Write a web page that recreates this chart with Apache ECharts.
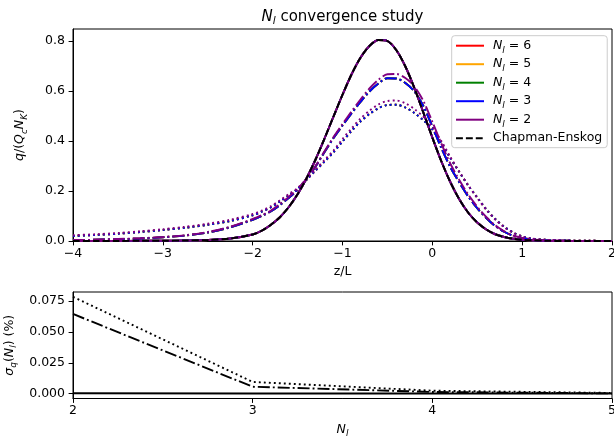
<!DOCTYPE html>
<html><head><meta charset="utf-8">
<script src="https://cdn.jsdelivr.net/npm/echarts@6/dist/echarts.min.js"></script>
<style>html,body{margin:0;padding:0;background:#fff}#c{width:614px;height:437px}</style>
</head><body><div id="c"></div>
<script>
// ---- top panel: q/(Q_c N_K) vs z/L ----
const zValues = [-4,-3.75,-3.5,-3.25,-3,-2.75,-2.5,-2.25,-2,-1.9,-1.8,-1.7,-1.6,-1.5,-1.4,-1.3,-1.2,-1.1,-1.0,-0.9,-0.8,-0.7,-0.6,-0.5,-0.4,-0.3,-0.2,-0.1,0,0.1,0.2,0.3,0.4,0.5,0.6,0.7,0.8,0.9,1.0,1.1,1.25,1.5,1.75,2.0];
// converged solid curves (N_l = 6..2) and Chapman-Enskog
const solidQ = [0.000,0.000,0.000,0.001,0.001,0.002,0.004,0.010,0.026, 0.041,0.064,0.094,0.135,0.187,0.251,0.326,0.410,0.498, 0.585,0.666,0.733,0.780,0.804,0.800,0.763,0.698,0.612,0.514, 0.414,0.319,0.236,0.167,0.113,0.074,0.046,0.027,0.016,0.009,0.005, 0.003,0.001,0.000,0.000,0.000];
const chapmanQ = [0.000,0.000,0.000,0.001,0.001,0.002,0.004,0.010,0.026, 0.041,0.064,0.094,0.135,0.187,0.251,0.326,0.410,0.498, 0.585,0.666,0.733,0.780,0.804,0.800,0.763,0.698,0.612,0.514, 0.414,0.319,0.236,0.167,0.113,0.074,0.046,0.027,0.016,0.009,0.005, 0.003,0.001,0.000,0.000,0.000];
// dash-dot group: N_l >= 3 and N_l = 2
const dashdotQ3 = [0.003,0.005,0.007,0.010,0.015,0.022,0.034,0.055,0.085, 0.100,0.118,0.143,0.172,0.205,0.248,0.298,0.356,0.412, 0.462,0.510,0.556,0.598,0.630,0.651,0.650,0.632,0.598,0.540, 0.458,0.372,0.296,0.234,0.178,0.131,0.092,0.060,0.037,0.021,0.012, 0.007,0.003,0.001,0.000,0.000];
const dashdotQ2 = [0.004,0.005,0.008,0.011,0.016,0.023,0.036,0.057,0.088, 0.103,0.121,0.147,0.176,0.208,0.250,0.300,0.359,0.416, 0.468,0.518,0.566,0.610,0.645,0.667,0.668,0.652,0.618,0.560, 0.477,0.390,0.310,0.244,0.186,0.137,0.096,0.063,0.039,0.022,0.012, 0.007,0.003,0.001,0.000,0.000];
// dotted group: N_l >= 3 and N_l = 2
const dottedQ3 = [0.020,0.024,0.029,0.036,0.044,0.053,0.065,0.080,0.103, 0.117,0.134,0.157,0.182,0.208,0.245,0.282,0.318,0.355, 0.398,0.440,0.478,0.508,0.531,0.544,0.545,0.534,0.512,0.483, 0.446,0.392,0.332,0.276,0.222,0.174,0.127,0.088,0.057,0.034,0.018, 0.010,0.005,0.002,0.001,0.000];
const dottedQ2 = [0.023,0.027,0.032,0.039,0.047,0.057,0.069,0.085,0.108, 0.122,0.139,0.162,0.187,0.212,0.248,0.286,0.324,0.362, 0.408,0.450,0.490,0.521,0.546,0.560,0.562,0.551,0.528,0.497, 0.456,0.400,0.337,0.278,0.222,0.172,0.125,0.086,0.055,0.033,0.018, 0.010,0.005,0.002,0.001,0.000];
const nlLevels = [6,5,4,3,2];
const topXTicks = [-4,-3,-2,-1,0,1,2];
const topYTicks = [0,0.2,0.4,0.6,0.8];

// ---- bottom panel: sigma_q(N_l) ----
const nlValues = [2,3,4,5];
const sigmaSolid = [0.0003,0.0002,0.0001,0.0001];
const sigmaDashdot = [0.0645,0.0056,0.0014,0.0002];
const sigmaDotted = [0.0784,0.0095,0.0024,0.0006];
const botXTicks = [2,3,4,5];
const botYTicks = [0,0.025,0.05,0.075];

const FONT = 'DejaVu Sans';
const FS = 12.5;
const pair = (xs, ys) => xs.map((x, i) => [x, ys[i]]);
const LW = 1.9;
const DASH = { solid: 'solid', dashdot: [12, 3, 1.9, 3], dotted: [1.9, 3.1], dashed: [6.9, 3] };
const COLORS = { 6: '#ff0000', 5: '#ffa500', 4: '#008000', 3: '#0000ff', 2: '#800080' };
const rich = {
  i: { fontFamily: FONT, fontStyle: 'italic', fontSize: FS, lineHeight: 18, color: '#000' },
  s: { fontFamily: FONT, fontStyle: 'italic', fontSize: 9, lineHeight: 9, verticalAlign: 'bottom', color: '#000' }
};
const minus = v => (v < 0 ? '\u2212' + Math.abs(v) : String(v));

function lineSeries(name, data, color, type, xi) {
  return {
    type: 'line', name: name, xAxisIndex: xi, yAxisIndex: xi, data: data,
    symbol: 'none', smooth: xi === 0 ? 0.3 : false,
    lineStyle: { color: color, width: LW, type: type, cap: 'butt' },
    itemStyle: { color: color }, animation: false, silent: true
  };
}

const series = [];
nlLevels.forEach(n => {
  const dd = n === 2 ? dashdotQ2 : dashdotQ3;
  const dt = n === 2 ? dottedQ2 : dottedQ3;
  series.push(lineSeries('N' + n, pair(zValues, solidQ), COLORS[n], DASH.solid, 0));
  series.push(lineSeries('dd' + n, pair(zValues, dd), COLORS[n], DASH.dashdot, 0));
  series.push(lineSeries('dot' + n, pair(zValues, dt), COLORS[n], DASH.dotted, 0));
});
series.push(lineSeries('CE', pair(zValues, chapmanQ), '#000000', DASH.dashed, 0));
series.push(lineSeries('s_solid', pair(nlValues, sigmaSolid), '#000000', DASH.solid, 1));
series.push(lineSeries('s_dd', pair(nlValues, sigmaDashdot), '#000000', DASH.dashdot, 1));
series.push(lineSeries('s_dot', pair(nlValues, sigmaDotted), '#000000', DASH.dotted, 1));

function xAxis(grid, min, max, ticks, name, gap) {
  return {
    type: 'value', gridIndex: grid, min: min, max: max,
    axisLine: { show: true, onZero: false, lineStyle: { color: '#000', width: 1 } },
    axisTick: { show: true, inside: false, length: 4.4, lineStyle: { color: '#000', width: 1 }, customValues: ticks },
    axisLabel: { customValues: ticks, margin: 6, color: '#000', fontFamily: FONT, fontSize: FS, formatter: v => minus(v), showMinLabel: true, showMaxLabel: true, hideOverlap: false },
    splitLine: { show: false },
    name: name, nameLocation: 'middle', nameGap: gap,
    nameTextStyle: { color: '#000', fontFamily: FONT, fontSize: FS, lineHeight: 18, rich: rich }
  };
}
function yAxis(grid, min, max, ticks, digits, name, gap) {
  return {
    type: 'value', gridIndex: grid, min: min, max: max,
    axisLine: { show: true, onZero: false, lineStyle: { color: '#000', width: 1 } },
    axisTick: { show: true, inside: false, length: 4.4, lineStyle: { color: '#000', width: 1 }, customValues: ticks },
    axisLabel: { customValues: ticks, margin: 8, color: '#000', fontFamily: FONT, fontSize: FS, formatter: v => v.toFixed(digits), showMinLabel: true, showMaxLabel: true },
    splitLine: { show: false },
    name: name, nameLocation: 'middle', nameGap: gap, nameRotate: 90,
    nameTextStyle: { color: '#000', fontFamily: FONT, fontSize: FS, lineHeight: 18, rich: rich }
  };
}

const nameMap = { N6: '{i|N}{s|l} = 6', N5: '{i|N}{s|l} = 5', N4: '{i|N}{s|l} = 4', N3: '{i|N}{s|l} = 3', N2: '{i|N}{s|l} = 2', CE: 'Chapman-Enskog' };

const option = {
  animation: false,
  backgroundColor: '#ffffff',
  grid: [
    { left: 73, right: 2, top: 29, height: 212, show: true, borderColor: '#000', borderWidth: 1, backgroundColor: 'transparent', containLabel: false, outerBoundsMode: 'none' },
    { left: 73, right: 2, top: 292, height: 106.5, show: true, borderColor: '#000', borderWidth: 1, backgroundColor: 'transparent', containLabel: false, outerBoundsMode: 'none' }
  ],
  xAxis: [
    xAxis(0, -4, 2, topXTicks, 'z/L', 22),
    xAxis(1, 2, 5, botXTicks, '{i|N}{s|l}', 22)
  ],
  yAxis: [
    yAxis(0, 0, 0.848, topYTicks, 1, '{i|q}/({i|Q}{s|c}{i|N}{s|K})', 44),
    yAxis(1, -0.0039, 0.0823, botYTicks, 3, '{i|σ}{s|q}({i|N}{s|l}) (%)', 44)
  ],
  legend: {
    data: ['N6', 'N5', 'N4', 'N3', 'N2', 'CE'],
    orient: 'vertical', left: 451.7, top: 35.7,
    itemWidth: 28, itemHeight: 14, itemGap: 0.5,
    padding: [1, 5, 0.5, 3.3],
    backgroundColor: 'rgba(255,255,255,0.8)', borderColor: '#cccccc', borderWidth: 1, borderRadius: 3,
    selectedMode: false,
    itemStyle: { opacity: 0 },
    formatter: n => nameMap[n],
    textStyle: { color: '#000', fontFamily: FONT, fontSize: FS, lineHeight: 18, padding: [0, 0, 0, 4], rich: rich }
  },
  graphic: [{
    type: 'text', x: 342.5, y: 17, silent: true,
    style: {
      text: '{i|N}{s|l} convergence study', fill: '#000', fontFamily: FONT, fontSize: 15,
      align: 'center', verticalAlign: 'middle',
      rich: {
        i: { fontFamily: FONT, fontStyle: 'italic', fontSize: 15, lineHeight: 20, fill: '#000' },
        s: { fontFamily: FONT, fontStyle: 'italic', fontSize: 10.5, lineHeight: 10.5, verticalAlign: 'bottom', fill: '#000' }
      }
    }
  }],
  series: series
};
const chart = echarts.init(document.getElementById('c'), null, { renderer: 'canvas' });
chart.setOption(option);
</script>
</body></html>
